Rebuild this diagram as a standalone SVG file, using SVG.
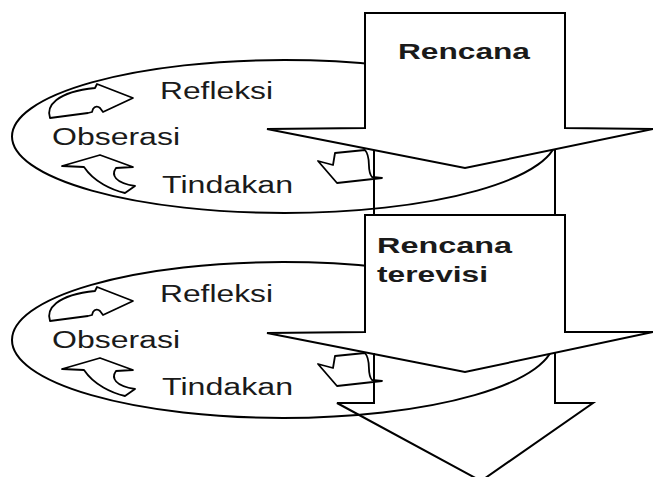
<svg xmlns="http://www.w3.org/2000/svg" width="653" height="477" viewBox="0 0 653 477">
<style>
.ln{fill:none;stroke:#000;stroke-width:2;stroke-linejoin:miter}
.sh{fill:#fff;stroke:#000;stroke-width:2;stroke-linejoin:miter}
.cy{fill:#fff;stroke:#000;stroke-width:1.8;stroke-linejoin:round}
.t{font-family:"Liberation Sans",Arial,sans-serif;font-size:23px;fill:#1a1a1a}
.b{font-family:"Liberation Sans",Arial,sans-serif;font-size:22px;font-weight:bold;fill:#1a1a1a}
</style>
<defs>
<g id="cycle">
<path class="cy" d="M50,118 C46,106 56,92 95,88 L97,84 L133,98 L103,112 L100,108 C98,106 95,106 93,109 L92,112 L88,113 Z"/>
<path class="cy" d="M62,166 L100,155 L133,167 L116,168 C111,175 115,183 135,186 L125,193 C112,190 94,182 84,167 Z"/>
<path class="cy" d="M335,153 L365,150 C372,158 366,170 372,177 L382,178 L337,183 L318,161 L333,165 Z"/>
</g>
</defs>
<g id="cycle1">
<ellipse class="ln" cx="284.5" cy="136.5" rx="272.5" ry="76.5"/>
<use href="#cycle"/>
<text class="t" x="160" y="99" textLength="113" lengthAdjust="spacingAndGlyphs">Refleksi</text>
<text class="t" x="52" y="145" textLength="128" lengthAdjust="spacingAndGlyphs">Obserasi</text>
<text class="t" x="162" y="193" textLength="131" lengthAdjust="spacingAndGlyphs">Tindakan</text>
</g>
<g id="cycle2">
<ellipse class="ln" cx="283" cy="340" rx="271" ry="78"/>
<use href="#cycle" transform="translate(0,203)"/>
<text class="t" x="160" y="302" textLength="113" lengthAdjust="spacingAndGlyphs">Refleksi</text>
<text class="t" x="52" y="348" textLength="128" lengthAdjust="spacingAndGlyphs">Obserasi</text>
<text class="t" x="162" y="395" textLength="131" lengthAdjust="spacingAndGlyphs">Tindakan</text>
</g>
<g id="connectors">
<path class="sh" d="M365,13 L565,13 L565,128 L653,129 L465,168 L267,129 L365,128 Z"/>
<path class="ln" d="M374,150 L374,215 M555,150 L555,215"/>
<path class="sh" d="M365,215 L565,215 L565,332 L653,332 L465,372 L267,333 L365,332 Z"/>
<path class="ln" d="M374,353 L374,403 L337,403 L481,481 L593,403 L555,403 L555,352"/>
</g>
<g id="plan1">
<text class="b" x="398" y="59" textLength="132" lengthAdjust="spacingAndGlyphs">Rencana</text>
</g>
<g id="plan2">
<text class="b" x="377" y="253" textLength="135" lengthAdjust="spacingAndGlyphs">Rencana</text>
<text class="b" x="377" y="282" textLength="111" lengthAdjust="spacingAndGlyphs">terevisi</text>
</g>
</svg>
